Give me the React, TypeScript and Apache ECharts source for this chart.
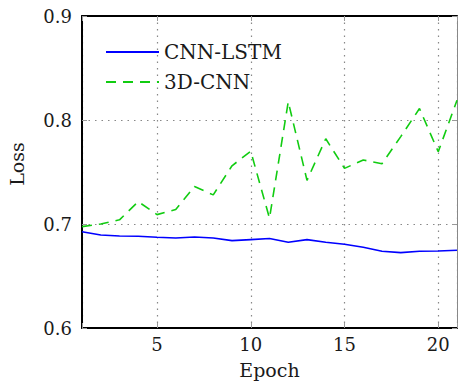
import React, { useEffect, useRef } from "react";
import * as echarts from "echarts";

const epochs = [1, 2, 3, 4, 5, 6, 7, 8, 9, 10, 11, 12, 13, 14, 15, 16, 17, 18, 19, 20, 21];
const cnnLstm = [0.6926, 0.6894, 0.6885, 0.6882, 0.6872, 0.6865, 0.6875, 0.6865, 0.684, 0.685, 0.686, 0.6824, 0.685, 0.6825, 0.6805, 0.6776, 0.6738, 0.6725, 0.6738, 0.674, 0.6747];
const cnn3d = [0.6975, 0.700, 0.704, 0.7215, 0.709, 0.714, 0.736, 0.728, 0.756, 0.770, 0.7055, 0.8176, 0.742, 0.782, 0.7535, 0.7615, 0.758, 0.784, 0.811, 0.7695, 0.819];
const yTicks = ["0.6", "0.7", "0.8", "0.9"];
const seriesNames = ["CNN-LSTM", "3D-CNN"];

const FONT = "DejaVu Serif";

export default function App() {
  const ref = useRef<HTMLDivElement>(null);
  useEffect(() => {
    if (!ref.current) return;
    const chart = echarts.init(ref.current, undefined, { renderer: "svg" });
    const tickStyle = { show: true, inside: true, length: 5, lineStyle: { color: "#999", width: 1 } };
    const boxLine = { show: true, onZero: false, lineStyle: { color: "#000", width: 2 } };
    chart.setOption({
      animation: false,
      grid: { left: 82, right: 1, top: 16, bottom: 53, containLabel: false, outerBoundsMode: "none" },
      legend: {
        left: 100,
        top: 37,
        orient: "vertical",
        itemWidth: 53,
        itemHeight: 14,
        itemGap: 10,
        data: seriesNames,
        itemStyle: { opacity: 0 },
        textStyle: { fontFamily: FONT, fontSize: 20, color: "#1a1a1a" },
      },
      xAxis: [
        {
          type: "value",
          min: 1,
          max: 21,
          splitNumber: 4,
          name: "Epoch",
          nameLocation: "middle",
          nameGap: 32,
          nameTextStyle: { fontFamily: FONT, fontSize: 19, color: "#1a1a1a" },
          axisLine: boxLine,
          axisTick: tickStyle,
          axisLabel: {
            margin: 7,
            fontFamily: FONT,
            fontSize: 18,
            color: "#1a1a1a",
            formatter: (v: number) => (v === 1 || v === 21 ? "" : String(v)),
          },
          splitLine: { show: true, lineStyle: { color: "#888", type: [1.5, 5], width: 1.2 } },
        },
        {
          type: "value",
          position: "top",
          min: 1,
          max: 21,
          splitNumber: 4,
          axisLine: boxLine,
          axisTick: tickStyle,
          axisLabel: { show: false },
          splitLine: { show: false },
        },
      ],
      yAxis: [
        {
          type: "value",
          min: 0.6,
          max: 0.9,
          interval: 0.1,
          name: "Loss",
          nameLocation: "middle",
          nameGap: 56,
          nameTextStyle: { fontFamily: FONT, fontSize: 19, color: "#1a1a1a", padding: [0, 0, 0, 16] },
          axisLine: boxLine,
          axisTick: tickStyle,
          axisLabel: {
            margin: 10,
            fontFamily: FONT,
            fontSize: 18,
            color: "#1a1a1a",
            formatter: (v: number) => yTicks[Math.round((v - 0.6) * 10)] ?? "",
          },
          splitLine: { show: true, lineStyle: { color: "#888", type: [1.5, 5], width: 1.2 } },
        },
        {
          type: "value",
          position: "right",
          min: 0.6,
          max: 0.9,
          interval: 0.1,
          axisLine: { show: true, onZero: false, lineStyle: { color: "#888", width: 1 } },
          axisTick: tickStyle,
          axisLabel: { show: false },
          splitLine: { show: false },
        },
      ],
      series: [
        {
          name: seriesNames[0],
          type: "line",
          symbol: "none",
          data: epochs.map((e, i) => [e, cnnLstm[i]]),
          lineStyle: { color: "#0000ff", width: 1.6 },
          itemStyle: { color: "#0000ff" },
          z: 3,
        },
        {
          name: seriesNames[1],
          type: "line",
          symbol: "none",
          data: epochs.map((e, i) => [e, cnn3d[i]]),
          lineStyle: { color: "#11cc11", width: 1.6, type: [10, 7] },
          itemStyle: { color: "#11cc11" },
          z: 2,
        },
      ],
    });
    return () => chart.dispose();
  }, []);
  return <div ref={ref} style={{ width: 458, height: 381, position: "absolute", left: 0, top: 0 }} />;
}
